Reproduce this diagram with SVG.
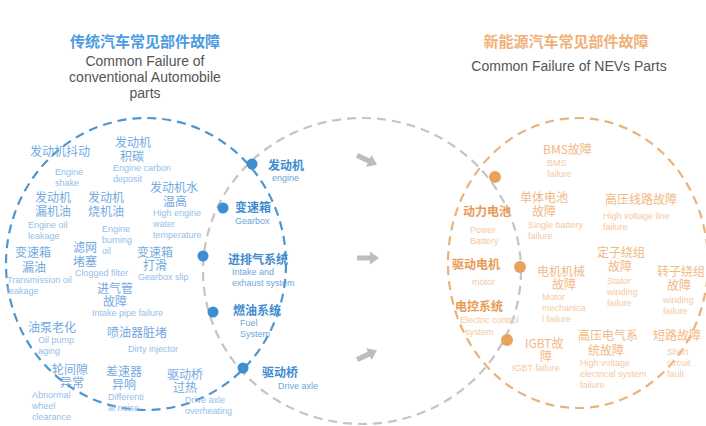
<svg xmlns="http://www.w3.org/2000/svg" width="706" height="426" viewBox="0 0 706 426">
  <defs>
    <style>
      text { font-family: "Liberation Sans", "Noto Sans CJK SC", sans-serif; }
      .zh { font-family: "Noto Sans CJK SC", sans-serif; font-size: 12px; }
      .en { font-size: 9px; }
      .blue .zh { fill: #72aadf; }
      .blue .en { fill: #93c0e8; }
      .blue .key { fill: #3f8ccf; font-weight: bold; }
      .blue .keyen { fill: #6ea6da; }
      .orange .zh { fill: #f2b883; }
      .orange .en { fill: #f4c9a2; }
      .orange .key { fill: #e99a55; font-weight: bold; }
      .dotb { fill: #3d8fd1; }
      .doto { fill: #e8a35e; }
      .ring { fill: none; stroke-width: 2.2; stroke-dasharray: 9 6; }
      .arrow { fill: #bdbdbd; }
      .title { font-family: "Noto Sans CJK SC", sans-serif; font-size: 15px; font-weight: bold; text-anchor: middle; }
      .sub { font-family: "Liberation Sans", Arial, sans-serif; font-size: 14px; fill: #555; text-anchor: middle; }
    </style>
    <path id="arr" d="M-11,-2.6 H2 V-6.5 L11,0 L2,6.5 V2.6 H-11 Z"/>
  </defs>
  <rect width="706" height="426" fill="#ffffff"/>

  <!-- headings -->
  <g id="heading-left">
    <text class="title" x="145" y="47" fill="#4d9be0">传统汽车常见部件故障</text>
    <text class="sub" x="145" y="66">Common Failure of</text>
    <text class="sub" x="145" y="82">conventional Automobile</text>
    <text class="sub" x="145" y="98">parts</text>
  </g>
  <g id="heading-right">
    <text class="title" x="566" y="47" fill="#f2b07a">新能源汽车常见部件故障</text>
    <text class="sub" x="569" y="71">Common Failure of NEVs Parts</text>
  </g>

  <!-- rings and arrows -->
  <g id="connectors">
    <ellipse class="ring" cx="146" cy="264" rx="140" ry="146" stroke="#4f95cf"/>
    <ellipse class="ring" cx="362" cy="271" rx="159" ry="153" stroke="#c4c4c4"/>
    <ellipse class="ring" cx="578" cy="263" rx="130" ry="145" stroke="#eab27c"/>
    <use href="#arr" class="arrow" transform="translate(367,160) rotate(25)"/>
    <use href="#arr" class="arrow" transform="translate(368,258)"/>
    <use href="#arr" class="arrow" transform="translate(367,355) rotate(-25)"/>
  </g>

  <!-- conventional vehicle failures -->
  <g class="blue">
    <g id="engine-shake"><text class="zh" x="30" y="156">发动机抖动</text><text class="en" x="55" y="175">Engine</text><text class="en" x="55" y="186">shake</text></g>
    <g id="engine-carbon"><text class="zh" x="115" y="147">发动机</text><text class="zh" x="120" y="161">积碳</text><text class="en" x="113" y="171">Engine carbon</text><text class="en" x="113" y="182">deposit</text></g>
    <g id="engine-water"><text class="zh" x="150" y="192">发动机水</text><text class="zh" x="163" y="206">温高</text><text class="en" x="153" y="216">High engine</text><text class="en" x="153" y="227">water</text><text class="en" x="153" y="238">temperature</text></g>
    <g id="engine-oil-leak"><text class="zh" x="35" y="202">发动机</text><text class="zh" x="35" y="216">漏机油</text><text class="en" x="28" y="228">Engine oil</text><text class="en" x="28" y="239">leakage</text></g>
    <g id="engine-oil-burn"><text class="zh" x="88" y="202">发动机</text><text class="zh" x="88" y="216">烧机油</text><text class="en" x="102" y="232">Engine</text><text class="en" x="102" y="243">burning</text><text class="en" x="102" y="254">oil</text></g>
    <g id="transmission-leak"><text class="zh" x="15" y="257">变速箱</text><text class="zh" x="22" y="272">漏油</text><text class="en" x="7" y="283">Transmission oil</text><text class="en" x="7" y="294">leakage</text></g>
    <g id="clogged-filter"><text class="zh" x="73" y="252">滤网</text><text class="zh" x="73" y="266">堵塞</text><text class="en" x="75" y="276">Clogged filter</text></g>
    <g id="gearbox-slip"><text class="zh" x="137" y="257">变速箱</text><text class="zh" x="143" y="270">打滑</text><text class="en" x="138" y="280">Gearbox slip</text></g>
    <g id="intake-pipe"><text class="zh" x="97" y="293">进气管</text><text class="zh" x="103" y="306">故障</text><text class="en" x="92" y="316">Intake pipe failure</text></g>
    <g id="oil-pump"><text class="zh" x="28" y="332">油泵老化</text><text class="en" x="38" y="343">Oil pump</text><text class="en" x="38" y="354">aging</text></g>
    <g id="dirty-injector"><text class="zh" x="107" y="337">喷油器脏堵</text><text class="en" x="128" y="352">Dirty injector</text></g>
    <g id="wheel-clearance"><text class="zh" x="52" y="374">轮间隙</text><text class="zh" x="60" y="387">异常</text><text class="en" x="32" y="398">Abnormal</text><text class="en" x="32" y="409">wheel</text><text class="en" x="32" y="420">clearance</text></g>
    <g id="diff-noise"><text class="zh" x="106" y="376">差速器</text><text class="zh" x="112" y="389">异响</text><text class="en" x="108" y="400">Differenti</text><text class="en" x="108" y="411">al noise</text></g>
    <g id="axle-overheat"><text class="zh" x="167" y="379">驱动桥</text><text class="zh" x="173" y="392">过热</text><text class="en" x="185" y="403">Drive axle</text><text class="en" x="185" y="414">overheating</text></g>

    <g id="sys-engine"><circle class="dotb" cx="252" cy="164" r="5.5"/><text class="zh key" x="268" y="170">发动机</text><text class="en keyen" x="272" y="181">engine</text></g>
    <g id="sys-gearbox"><circle class="dotb" cx="223" cy="208" r="5.5"/><text class="zh key" x="235" y="212">变速箱</text><text class="en keyen" x="235" y="224">Gearbox</text></g>
    <g id="sys-intake"><circle class="dotb" cx="203" cy="256" r="5.5"/><text class="zh key" x="228" y="264">进排气系统</text><text class="en keyen" x="232" y="275">Intake and</text><text class="en keyen" x="232" y="286">exhaust system</text></g>
    <g id="sys-fuel"><circle class="dotb" cx="213" cy="312" r="5.5"/><text class="zh key" x="233" y="315">燃油系统</text><text class="en keyen" x="240" y="326">Fuel</text><text class="en keyen" x="240" y="337">System</text></g>
    <g id="sys-axle"><circle class="dotb" cx="243" cy="368" r="5.5"/><text class="zh key" x="262" y="377">驱动桥</text><text class="en keyen" x="278" y="389">Drive axle</text></g>
  </g>

  <!-- new energy vehicle failures -->
  <g class="orange">
    <g id="bms"><text class="zh" x="543" y="154">BMS故障</text><text class="en" x="547" y="166">BMS</text><text class="en" x="547" y="177">failure</text></g>
    <g id="sys-battery"><circle class="doto" cx="495" cy="177" r="6"/><text class="zh key" x="463" y="216">动力电池</text><text class="en" x="470" y="233">Power</text><text class="en" x="470" y="244">Battery</text></g>
    <g id="cell"><text class="zh" x="520" y="202">单体电池</text><text class="zh" x="532" y="216">故障</text><text class="en" x="528" y="228">Single battery</text><text class="en" x="528" y="239">failure</text></g>
    <g id="hv-line"><text class="zh" x="605" y="204">高压线路故障</text><text class="en" x="603" y="219">High voltage line</text><text class="en" x="603" y="230">failure</text></g>
    <g id="sys-motor"><circle class="doto" cx="520" cy="267" r="6"/><text class="zh key" x="452" y="269">驱动电机</text><text class="en" x="472" y="285">motor</text></g>
    <g id="motor-mech"><text class="zh" x="537" y="276">电机机械</text><text class="zh" x="552" y="289">故障</text><text class="en" x="542" y="300">Motor</text><text class="en" x="542" y="311">mechanica</text><text class="en" x="542" y="322">l failure</text></g>
    <g id="stator"><text class="zh" x="597" y="257">定子绕组</text><text class="zh" x="608" y="271">故障</text><text class="en" x="607" y="284">Stator</text><text class="en" x="607" y="295">winding</text><text class="en" x="607" y="306">failure</text></g>
    <g id="rotor"><text class="zh" x="657" y="276">转子绕组</text><text class="zh" x="667" y="290">故障</text><text class="en" x="663" y="303">winding</text><text class="en" x="663" y="314">failure</text></g>
    <g id="sys-control"><circle class="doto" cx="507" cy="340" r="6"/><text class="zh key" x="455" y="311">电控系统</text><text class="en" x="460" y="323">Electric control</text><text class="en" x="465" y="335">system</text></g>
    <g id="igbt"><text class="zh" x="525" y="348">IGBT故</text><text class="zh" x="540" y="361">障</text><text class="en" x="512" y="371">IGBT failure</text></g>
    <g id="hv-system"><text class="zh" x="578" y="340">高压电气系</text><text class="zh" x="588" y="355">统故障</text><text class="en" x="580" y="366">High voltage</text><text class="en" x="580" y="377">electrical system</text><text class="en" x="580" y="388">failure</text></g>
    <g id="short"><text class="zh" x="653" y="340">短路故障</text><text class="en" x="667" y="355">Short</text><text class="en" x="667" y="366">circuit</text><text class="en" x="667" y="377">fault</text></g>
  </g>
</svg>
